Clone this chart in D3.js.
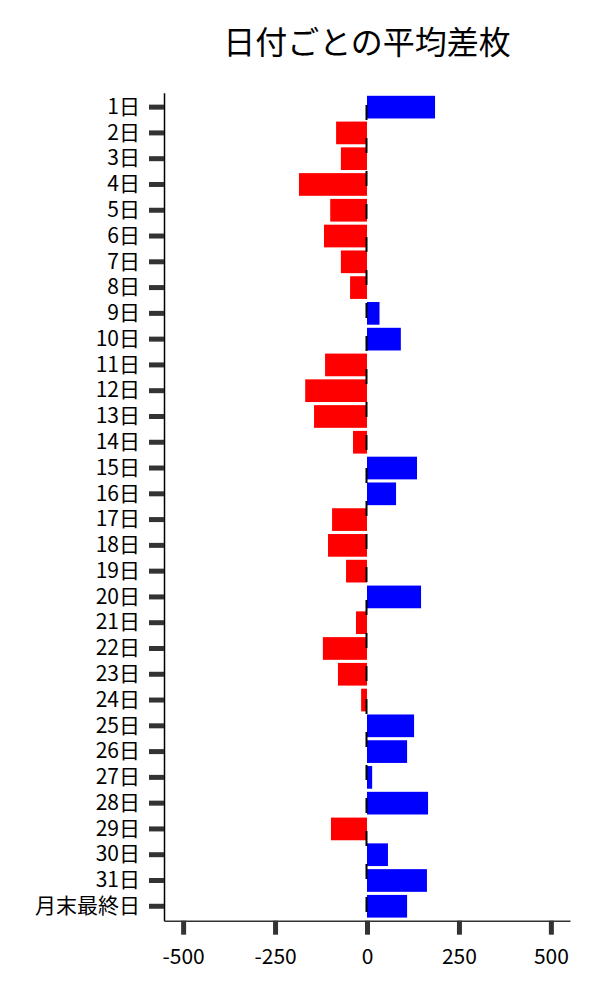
<!DOCTYPE html>
<html>
<head>
<meta charset="utf-8">
<script src="https://cdn.jsdelivr.net/npm/d3@7"></script>
<style>
  html, body { margin: 0; padding: 0; background: #fff; }
  svg { display: block; font-family: "Noto Sans CJK JP", "Noto Sans", sans-serif; }
</style>
</head>
<body>
<svg id="chart" width="600" height="1000"></svg>
<script>
const title = "日付ごとの平均差枚";
const categories = ["1日","2日","3日","4日","5日","6日","7日","8日","9日","10日",
  "11日","12日","13日","14日","15日","16日","17日","18日","19日","20日",
  "21日","22日","23日","24日","25日","26日","27日","28日","29日","30日","31日","月末最終日"];
const values = [185, -84, -71, -185, -100, -117, -71, -46, 34, 92,
  -114, -168, -144, -38, 136, 79, -95, -106, -57, 147,
  -30, -120, -79, -16, 128, 109, 14, 166, -98, 57, 163, 109];
const xTicks = [-500, -250, 0, 250, 500];
const xDomain = [-552, 552];

const svg = d3.select("#chart");
const mLeft = 164, mRight = 570, mTop = 92.7, mBottom = 920.7;

const x = d3.scaleLinear().domain(xDomain).range([mLeft, mRight]);
const y = d3.scaleBand().domain(categories).range([mTop, mBottom])
  .paddingInner(0.12).paddingOuter(0.12);

const data = categories.map((c, i) => ({ cat: c, v: values[i] }));

svg.append("g").selectAll("rect").data(data).join("rect")
  .attr("x", d => x(Math.min(0, d.v)))
  .attr("y", d => y(d.cat))
  .attr("width", d => Math.abs(x(d.v) - x(0)))
  .attr("height", y.bandwidth())
  .attr("fill", d => d.v >= 0 ? "#0000ff" : "#ff0000");

// zero dashed line
svg.append("line")
  .attr("x1", x(0) - 0.5).attr("x2", x(0) - 0.5)
  .attr("y1", mTop).attr("y2", mBottom)
  .attr("stroke", "#000").attr("stroke-width", 2)
  .attr("stroke-dasharray", "15,18")
  .attr("stroke-dashoffset", 20.7);

// y axis
const gy = svg.append("g").attr("transform", `translate(${mLeft},0)`)
  .call(d3.axisLeft(y).tickSize(15).tickSizeOuter(0).tickPadding(9));
gy.select(".domain").attr("stroke", "#000").attr("stroke-width", 1.5);
gy.selectAll(".tick line").attr("stroke", "#333").attr("stroke-width", 5);
gy.selectAll(".tick text").attr("font-size", 21).attr("fill", "#000")
  .attr("font-family", "'Noto Sans CJK JP', sans-serif");

// x axis
const gx = svg.append("g").attr("transform", `translate(0,${mBottom})`)
  .call(d3.axisBottom(x).tickValues(xTicks).tickSize(14).tickSizeOuter(0).tickPadding(14)
    .tickFormat(d => String(d)));
gx.select(".domain").attr("stroke", "#333").attr("stroke-width", 1.5);
gx.selectAll(".tick line").attr("stroke", "#333").attr("stroke-width", 5);
gx.selectAll(".tick text").attr("font-size", 21).attr("fill", "#000")
  .attr("font-family", "'Noto Sans CJK JP', sans-serif");

svg.append("text")
  .attr("x", (mLeft + mRight) / 2).attr("y", 54)
  .attr("text-anchor", "middle")
  .attr("font-size", 32).attr("fill", "#000")
  .text(title);
</script>
</body>
</html>
